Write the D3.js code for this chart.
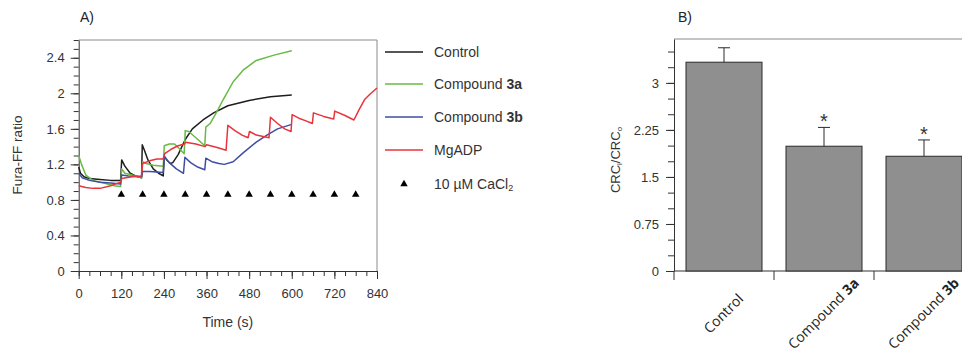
<!DOCTYPE html>
<html>
<head>
<meta charset="utf-8">
<script src="https://cdn.jsdelivr.net/npm/d3@7"></script>
<style>
  body { margin: 0; background: #fff; }
  svg { display: block; font-family: "Liberation Sans", Arial, sans-serif; }
</style>
</head>
<body>
<svg id="chart" width="962" height="352"></svg>
<script>
// Panel A: Fura-FF ratio traces, [time (s), ratio]
const controlData = [
  [0, 1.17], [5, 1.10], [15, 1.06], [30, 1.04], [60, 1.03], [90, 1.02], [118, 1.02],
  [121, 1.25], [130, 1.18], [145, 1.10], [160, 1.07], [177, 1.05],
  [179, 1.42], [185, 1.36], [195, 1.25], [210, 1.15], [225, 1.10], [238, 1.07],
  [241, 1.29], [248, 1.25], [258, 1.21], [265, 1.22], [280, 1.31], [300, 1.48],
  [320, 1.60], [350, 1.70], [380, 1.78], [420, 1.86], [480, 1.92], [540, 1.96], [600, 1.98]
];
const compound3aData = [
  [0, 1.30], [8, 1.20], [20, 1.08], [40, 1.02], [70, 0.99], [100, 0.96], [118, 0.95],
  [121, 1.15], [130, 1.10], [150, 1.08], [177, 1.05],
  [180, 1.23], [190, 1.21], [210, 1.19], [238, 1.18],
  [241, 1.41], [255, 1.43], [270, 1.43], [285, 1.37], [297, 1.32],
  [300, 1.58], [310, 1.57], [330, 1.50], [355, 1.41],
  [358, 1.62], [370, 1.66], [390, 1.80], [407, 1.93], [435, 2.13], [463, 2.26],
  [500, 2.37], [550, 2.43], [600, 2.48]
];
const compound3bData = [
  [0, 1.10], [10, 1.05], [30, 1.02], [60, 1.00], [90, 0.99], [118, 0.98],
  [121, 1.08], [140, 1.07], [177, 1.06],
  [180, 1.12], [200, 1.12], [238, 1.11],
  [241, 1.29], [255, 1.22], [275, 1.15], [295, 1.10],
  [299, 1.28], [315, 1.22], [335, 1.17], [355, 1.14],
  [358, 1.27], [375, 1.23], [395, 1.21], [410, 1.20], [435, 1.23], [463, 1.33],
  [500, 1.45], [530, 1.53], [560, 1.60], [600, 1.65]
];
const mgadpData = [
  [0, 0.96], [20, 0.94], [40, 0.93], [60, 0.93], [90, 0.96], [118, 1.00],
  [121, 1.04], [150, 1.06], [177, 1.07],
  [180, 1.21], [200, 1.24], [220, 1.26], [238, 1.26],
  [242, 1.32], [260, 1.37], [280, 1.41], [298, 1.43],
  [301, 1.45], [330, 1.43], [356, 1.40],
  [360, 1.42], [390, 1.39], [415, 1.36],
  [420, 1.64], [440, 1.58], [460, 1.53], [477, 1.50],
  [481, 1.57], [500, 1.53], [536, 1.50],
  [540, 1.73], [560, 1.66], [580, 1.60], [598, 1.57],
  [601, 1.76], [620, 1.72], [640, 1.69], [658, 1.66],
  [661, 1.78], [690, 1.74], [718, 1.71],
  [721, 1.80], [750, 1.75], [775, 1.70],
  [790, 1.82], [805, 1.93], [820, 1.99], [840, 2.06]
];
const seriesNames = ["Control", "Compound 3a", "Compound 3b", "MgADP"];
const seriesData = [controlData, compound3aData, compound3bData, mgadpData];

// CaCl2 additions
const cacl2Times = [120, 180, 240, 300, 360, 420, 480, 540, 600, 660, 720, 780];
const cacl2Level = 0.86;

const timeTicks = [0, 120, 240, 360, 480, 600, 720, 840];
const ratioTicks = [0, 0.4, 0.8, 1.2, 1.6, 2, 2.4];

// Panel B: CRCi/CRCo
const barCategories = ["Control", "Compound 3a", "Compound 3b"];
const barValues = [3.33, 1.99, 1.83];
const barErrors = [0.23, 0.30, 0.26];
const barSignificant = [false, true, true];
const crcTicks = [0, 0.75, 1.5, 2.25, 3];

const seriesColors = ["#1e1e1e", "#66bb44", "#3f4ea3", "#e8343c"];
const svg = d3.select("#chart");

// split "Compound 3a" into a normal part and a bold compound number
function addLabel(text, label) {
  const m = label.match(/^(.*\s)(\d\w*)$/);
  if (m) {
    text.append("tspan").text(m[1]);
    text.append("tspan").attr("font-weight", "bold").text(m[2]);
  } else {
    text.text(label);
  }
}

// ---------- Panel A ----------
const x = d3.scaleLinear().domain([0, 840]).range([78.7, 377]);
const y = d3.scaleLinear().domain([0, 2.6]).range([271, 40]);

const gA = svg.append("g");

// frame top and right
gA.append("path")
  .attr("d", `M${x(0)},${y(2.6)}H${x(840)}V${y(0)}`)
  .attr("fill", "none")
  .attr("stroke", "#8a8a8a")
  .attr("stroke-width", 1);

gA.append("g")
  .attr("transform", `translate(0,${y(0)})`)
  .call(d3.axisBottom(x).tickValues(d3.range(0, 841, 30)).tickSize(5).tickFormat(""))
  .call((g) => g.select(".domain").remove());
gA.append("g")
  .attr("transform", `translate(${x(0)},0)`)
  .call(d3.axisLeft(y).tickValues(d3.range(0, 2.61, 0.1)).tickSize(5).tickFormat(""))
  .call((g) => g.select(".domain").remove());

gA.append("g")
  .attr("transform", `translate(0,${y(0)})`)
  .call(d3.axisBottom(x).tickValues(timeTicks).tickSize(8).tickSizeOuter(0).tickPadding(10));
gA.append("g")
  .attr("transform", `translate(${x(0)},0)`)
  .call(d3.axisLeft(y).tickValues(ratioTicks).tickSize(8).tickSizeOuter(0).tickPadding(6).tickFormat(d3.format("")));

gA.selectAll(".tick line, .domain").attr("stroke", "#333");
gA.selectAll(".tick text").attr("font-size", 13).attr("fill", "#333")
  .attr("font-family", "Liberation Sans, Arial, sans-serif");

gA.append("text")
  .attr("x", x(420)).attr("y", 327)
  .attr("text-anchor", "middle")
  .attr("font-size", 14).attr("fill", "#333")
  .text("Time (s)");

gA.append("text")
  .attr("transform", "translate(22,155) rotate(-90)")
  .attr("text-anchor", "middle")
  .attr("font-size", 13.5).attr("fill", "#333")
  .text("Fura-FF ratio");

gA.append("text")
  .attr("x", 80).attr("y", 22)
  .attr("font-size", 14).attr("fill", "#222")
  .text("A)");

const line = d3.line().x((d) => x(d[0])).y((d) => y(d[1]));

seriesData.forEach((data, i) => {
  gA.append("path")
    .datum(data)
    .attr("d", line)
    .attr("fill", "none")
    .attr("stroke", seriesColors[i])
    .attr("stroke-width", 1.5)
    .attr("stroke-linejoin", "round");
});

const tri = d3.symbol().type(d3.symbolTriangle).size(24);
gA.append("g")
  .selectAll("path")
  .data(cacl2Times)
  .enter()
  .append("path")
  .attr("d", tri)
  .attr("transform", (d) => `translate(${x(d)},${y(cacl2Level)})`)
  .attr("fill", "#000");

// legend
const legend = svg.append("g");
const legendY = [52, 84, 117, 150];
seriesNames.forEach((name, i) => {
  legend.append("line")
    .attr("x1", 385).attr("x2", 423)
    .attr("y1", legendY[i]).attr("y2", legendY[i])
    .attr("stroke", seriesColors[i])
    .attr("stroke-width", 1.3);
  const t = legend.append("text")
    .attr("x", 434).attr("y", legendY[i] + 5)
    .attr("font-size", 14).attr("fill", "#333");
  addLabel(t, name);
});
legend.append("path")
  .attr("d", tri)
  .attr("transform", "translate(404,184)")
  .attr("fill", "#000");
const caText = legend.append("text")
  .attr("x", 434).attr("y", 189)
  .attr("font-size", 14).attr("fill", "#333");
caText.append("tspan").text("10 \u00b5M CaCl");
caText.append("tspan").attr("font-size", 9).attr("dy", 2).text("2");

// ---------- Panel B ----------
const xb = d3.scaleBand().domain(barCategories).range([674, 974]).paddingInner(0.24).paddingOuter(0.12);
const yb = d3.scaleLinear().domain([0, 3.7]).range([271, 39]);

const gB = svg.append("g");

gB.append("path")
  .attr("d", `M674,${yb(3.7)}H974V${yb(0)}`)
  .attr("fill", "none")
  .attr("stroke", "#8a8a8a");

gB.append("g")
  .attr("transform", "translate(674,0)")
  .call(d3.axisLeft(yb).tickValues(d3.range(0, 3.51, 0.25)).tickSize(6).tickFormat(""))
  .call((g) => g.select(".domain").remove());
gB.append("g")
  .attr("transform", "translate(674,0)")
  .call(d3.axisLeft(yb).tickValues(crcTicks).tickSize(8).tickSizeOuter(0).tickPadding(7).tickFormat(d3.format("")));

// category axis with ticks on band boundaries
gB.append("g")
  .attr("transform", `translate(0,${yb(0)})`)
  .call((g) => {
    g.append("path").attr("class", "domain").attr("d", "M674,0H974");
    g.selectAll(".sep")
      .data(barCategories)
      .enter()
      .append("line")
      .attr("class", "sep")
      .attr("x1", (d) => xb(d) - xb.step() * 0.12)
      .attr("x2", (d) => xb(d) - xb.step() * 0.12)
      .attr("y1", 0).attr("y2", 9);
  });

gB.selectAll(".tick line, .domain, .sep").attr("stroke", "#333").attr("fill", "none");
gB.selectAll(".tick text").attr("font-size", 13).attr("fill", "#333")
  .attr("font-family", "Liberation Sans, Arial, sans-serif");

gB.selectAll("rect.bar")
  .data(barValues)
  .enter()
  .append("rect")
  .attr("class", "bar")
  .attr("x", (d, i) => xb(barCategories[i]))
  .attr("width", xb.bandwidth())
  .attr("y", (d) => yb(d))
  .attr("height", (d) => yb(0) - yb(d))
  .attr("fill", "#8f8f8f")
  .attr("stroke", "#2a2a2a")
  .attr("stroke-width", 1);

barValues.forEach((v, i) => {
  const cx = xb(barCategories[i]) + xb.bandwidth() / 2;
  const top = yb(v + barErrors[i]);
  gB.append("path")
    .attr("d", `M${cx},${yb(v)}V${top}M${cx - 6},${top}H${cx + 6}`)
    .attr("stroke", "#2a2a2a")
    .attr("fill", "none");
  if (barSignificant[i]) {
    gB.append("text")
      .attr("x", cx).attr("y", top + 1)
      .attr("text-anchor", "middle")
      .attr("font-size", 20).attr("fill", "#333")
      .text("*");
  }
  const t = gB.append("text")
    .attr("transform", `translate(${cx + 3},317) rotate(-45)`)
    .attr("text-anchor", "middle")
    .attr("font-family", "Open Sans, sans-serif")
    .attr("font-size", 14).attr("fill", "#222");
  addLabel(t, barCategories[i]);
});

const yTitle = gB.append("text")
  .attr("transform", "translate(620,160) rotate(-90)")
  .attr("text-anchor", "middle")
  .attr("font-size", 13).attr("fill", "#333");
yTitle.append("tspan").text("CRC");
yTitle.append("tspan").attr("font-size", 8).attr("dy", 2).text("i");
yTitle.append("tspan").attr("dy", -2).text("/CRC");
yTitle.append("tspan").attr("font-size", 8).attr("dy", 2).text("o");

gB.append("text")
  .attr("x", 678).attr("y", 22)
  .attr("font-size", 14).attr("fill", "#222")
  .text("B)");
</script>
</body>
</html>
